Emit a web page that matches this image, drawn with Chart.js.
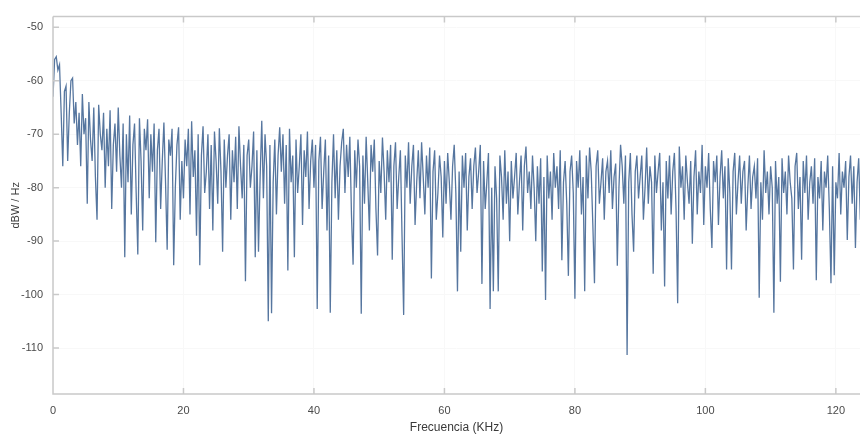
<!DOCTYPE html>
<html>

<head>
    <title>Densidad espectral</title>
    <style>
        html, body {
            margin: 0;
            padding: 0;
            background: #ffffff;
        }
        #wrap {
            width: 860px;
            height: 435px;
        }
    </style>
</head>

<body>
    <div id="wrap">
        <canvas id="psdChart"></canvas>
    </div>

    <script src="https://cdn.jsdelivr.net/npm/chart.js"></script>

    <script>
        // spectrum bins: first bin and bin width in KHz
        const binStart = 0;
        const binWidth = 0.25;

        // dBW / Hz, one value per bin
        const psdValues = [
            -63, -56, -55.5, -58, -57, -66, -76, -62, -61, -75, -66, -60, -59.5, -68, -64, -72, -66, -76, -62.5, -70,
            -67, -83, -64, -71, -75, -65, -78, -86, -64.5, -70, -73, -66, -80, -69, -76, -65.5, -84, -72, -68, -77,
            -65, -74, -80, -68, -93, -70, -79, -66.5, -85, -72, -68, -81, -92.5, -67, -75, -88, -69, -73, -67.2, -82,
            -70, -77, -68, -90.2, -73, -69, -84, -75, -67.8, -79, -91.6, -71, -74, -69, -94.5, -80, -72, -68.7, -86, -75,
            -82, -71, -76, -69, -85, -67.6, -78, -73, -89, -70, -94.5, -74, -68.5, -81, -77, -70, -84, -72, -88, -69.5,
            -75, -83, -68.9, -77, -92, -71, -80, -74, -70, -86, -73, -79, -70.5, -84, -68.5, -76, -82, -72, -97.5, -74,
            -71, -80, -76, -69.5, -93, -73, -92, -78, -67.5, -82, -70, -76, -105, -72, -103.5, -79, -71, -85, -74, -68.7,
            -77, -70, -83, -72, -95.5, -69, -79, -74, -93, -71, -81, -76, -70, -87, -73, -78, -69.5, -84, -75, -71,
            -80, -72, -102.7, -75, -70.5, -84, -77, -71, -88, -74, -103.4, -79, -70, -82, -73, -86, -76, -71.5, -69, -81,
            -72, -78, -70.5, -85, -94.4, -73, -80, -71, -76, -103.6, -74, -83, -70.5, -79, -88, -72, -77, -71, -84, -92.7,
            -75, -81, -70.6, -77, -86, -73, -79, -72, -93.5, -76, -71.5, -84, -78, -73, -89, -103.8, -74, -80, -71.5, -83,
            -76, -72, -87, -79, -73, -82, -71.5, -78, -85, -74, -80, -72.5, -97, -77, -73, -86, -81, -74, -78, -89.3,
            -75, -83, -73.5, -79, -86, -76, -72, -81, -99.4, -77, -92, -74, -80, -73.5, -88, -78, -74.5, -84, -76, -72.5,
            -81, -77, -72, -98, -75, -84, -79, -73.5, -102.7, -80, -99.4, -76, -82, -99.4, -74, -78, -86, -73, -83, -77,
            -90, -75, -82, -78, -73.5, -85, -79, -74, -88, -76, -72.3, -81, -77, -84, -74, -80, -90, -76, -83, -74.5,
            -95.7, -78, -101, -74, -82, -77, -86, -73.5, -80, -76, -84, -73, -93.6, -79, -75, -83, -96.5, -77, -74, -81,
            -100.8, -75, -80, -73, -85, -78, -99.4, -74, -82, -72.5, -77, -87, -97.9, -76, -73, -83, -79, -74.5, -86, -77,
            -75, -81, -73, -84, -78, -75.5, -94.6, -80, -72, -76, -83, -74, -111.3, -79, -73.5, -85, -92, -77, -74, -82,
            -78, -74, -86, -80, -72.5, -83, -76, -79, -96.1, -74, -81, -77, -73.5, -88, -79, -98.5, -75, -82, -74, -85,
            -77, -73.5, -84, -101.6, -72.3, -80, -76, -86, -74, -79, -83, -75, -90.5, -78, -73, -85, -77, -81, -72, -87,
            -76, -80, -73.5, -84, -91.3, -75, -79, -74, -87, -78, -73, -82, -76, -95.3, -74.5, -81, -95.3, -77, -73.5, -85,
            -79, -74, -83, -77, -75, -88, -80, -74, -84, -78, -76, -82, -74.5, -100.6, -79, -86, -73, -81, -77, -85,
            -76, -80, -103.4, -75, -83, -78, -97.6, -74.5, -81, -77, -85, -74, -79, -82, -95.3, -76, -73.5, -84, -78, -93.5,
            -75, -81, -74, -86, -79, -76, -83, -74.5, -97.3, -78, -82, -75, -88, -77, -80, -74, -84, -97.9, -76, -96.4,
            -79, -82, -73.5, -85, -77, -80, -75, -89.8, -78, -74, -83, -76, -91.3, -79, -74.5, -86
        ];

        const xTickValues = [0, 20, 40, 60, 80, 100, 120];
        const yTickValues = [-110, -100, -90, -80, -70, -60, -50];

        const xMin = 0, xMax = 123.7;
        const yMin = -118.6, yMax = -48;

        const axisGray = '#c9c9c9';
        const textGray = '#4a4a4a';

        let points = psdValues.map((v, i) => ({ x: binStart + i * binWidth, y: v }));

        // matlab style: box on top, ticks pointing inwards
        const boxTicks = {
            id: 'boxTicks',
            afterDraw(chart) {
                const c = chart.ctx;
                const a = chart.chartArea;
                const xs = chart.scales.x;
                const ys = chart.scales.y;
                c.save();
                c.strokeStyle = axisGray;
                c.lineWidth = 1.5;
                c.beginPath();
                c.moveTo(a.left, a.top);
                c.lineTo(a.right, a.top);
                c.moveTo(a.left, a.top);
                c.lineTo(a.left, a.bottom);
                c.lineTo(a.right, a.bottom);
                for (let v of xTickValues) {
                    let px = xs.getPixelForValue(v);
                    c.moveTo(px, a.bottom);
                    c.lineTo(px, a.bottom - 6);
                    c.moveTo(px, a.top);
                    c.lineTo(px, a.top + 6);
                }
                for (let v of yTickValues) {
                    let py = ys.getPixelForValue(v);
                    c.moveTo(a.left, py);
                    c.lineTo(a.left + 6, py);
                }
                c.stroke();
                c.restore();
            }
        };

        new Chart(document.getElementById('psdChart'), {
            type: 'line',
            data: {
                datasets: [{
                    label: 'PSD',
                    data: points,
                    borderColor: '#56769f',
                    borderWidth: 1.3,
                    pointRadius: 0,
                    tension: 0
                }]
            },
            options: {
                responsive: true,
                maintainAspectRatio: false,
                animation: false,
                layout: {
                    padding: { top: 10, right: 0, left: 0, bottom: 0 }
                },
                plugins: {
                    legend: { display: false },
                    tooltip: { enabled: false }
                },
                scales: {
                    x: {
                        type: 'linear',
                        min: xMin,
                        max: xMax,
                        afterBuildTicks: s => { s.ticks = xTickValues.map(v => ({ value: v })); },
                        afterFit: s => { s.height = 41; },
                        grid: { color: '#f8f8f8', drawTicks: false },
                        border: { display: false },
                        ticks: {
                            color: textGray,
                            padding: 10,
                            maxRotation: 0,
                            font: { family: 'Liberation Sans', size: 11 }
                        },
                        title: {
                            display: true,
                            text: 'Frecuencia (KHz)',
                            color: '#3a3a3a',
                            padding: { top: 0, bottom: 0 },
                            font: { family: 'Liberation Sans', size: 12 }
                        }
                    },
                    y: {
                        min: yMin,
                        max: yMax,
                        afterBuildTicks: s => { s.ticks = yTickValues.map(v => ({ value: v })); },
                        afterFit: s => { s.width = 53; },
                        grid: { color: '#f8f8f8', drawTicks: false },
                        border: { display: false },
                        ticks: {
                            color: textGray,
                            padding: 10,
                            font: { family: 'Liberation Sans', size: 11 }
                        },
                        title: {
                            display: true,
                            text: 'dBW / Hz',
                            color: '#3a3a3a',
                            padding: { top: 9, bottom: 0 },
                            font: { family: 'Liberation Sans', size: 11 }
                        }
                    }
                }
            },
            plugins: [boxTicks]
        });
    </script>

</body>

</html>
